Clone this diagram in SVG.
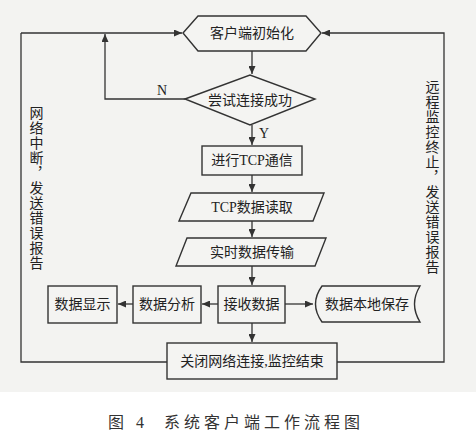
<svg xmlns="http://www.w3.org/2000/svg" width="476" height="442" viewBox="0 0 476 442">
<defs>
<marker id="ah" markerUnits="userSpaceOnUse" markerWidth="9" markerHeight="7" refX="8" refY="3.5" orient="auto">
<path d="M0,0 L8,3.5 L0,7 Z" fill="#333"/>
</marker>
<style>
.shape{fill:#f4f4f2;stroke:#333;stroke-width:1.4}
.t{font-family:"Liberation Serif","Noto Sans CJK SC",serif;font-size:14px;fill:#222;text-anchor:middle;dominant-baseline:central}
.c{fill:none;stroke:#333;stroke-width:1.3}
.v{font-family:"Liberation Serif","Noto Sans CJK SC",serif;font-size:14px;fill:#222;writing-mode:vertical-rl;letter-spacing:1px}
</style>
</defs>
<rect x="0" y="0" width="476" height="442" fill="#ffffff"/>
<rect x="0" y="0" width="476" height="392" fill="#f3f3f1"/>
<g id="connectors">
<path class="c" d="M21,33 L21,362 L167,362"/>
<path class="c" d="M337,362 L444,362 L444,33 L322,33" marker-end="url(#ah)"/>
<path class="c" d="M21,33 L182,33" marker-end="url(#ah)"/>
<path class="c" d="M185,99 L105,99 L105,34" marker-end="url(#ah)"/>
<path class="c" d="M252,51 L252,74" marker-end="url(#ah)"/>
<path class="c" d="M252,125 L252,145" marker-end="url(#ah)"/>
<path class="c" d="M252,175 L252,192" marker-end="url(#ah)"/>
<path class="c" d="M252,221 L252,237" marker-end="url(#ah)"/>
<path class="c" d="M252,266 L252,285" marker-end="url(#ah)"/>
<path class="c" d="M252,323 L252,342" marker-end="url(#ah)"/>
<path class="c" d="M218,304 L202,304" marker-end="url(#ah)"/>
<path class="c" d="M133,304 L118,304" marker-end="url(#ah)"/>
<path class="c" d="M285,304 L313,304" marker-end="url(#ah)"/>
<text class="t" x="162" y="90">N</text>
<text class="t" x="264" y="133">Y</text>
</g>
<g id="n-init"><path class="shape" d="M183,33 L198,16 L306,16 L321,33 L306,51 L198,51 Z"/><text class="t" x="252" y="33">客户端初始化</text></g>
<g id="n-try"><path class="shape" d="M185,99 L250,75 L315,99 L250,125 Z"/><text class="t" x="250" y="100">尝试连接成功</text></g>
<g id="n-tcp"><rect class="shape" x="202" y="146" width="100" height="29"/><text class="t" x="252" y="160">进行TCP通信</text></g>
<g id="n-read"><path class="shape" d="M191,193 L324,193 L313,221 L179,221 Z"/><text class="t" x="252" y="207">TCP数据读取</text></g>
<g id="n-trans"><path class="shape" d="M187,238 L326,238 L315,266 L176,266 Z"/><text class="t" x="252" y="252">实时数据传输</text></g>
<g id="n-show"><rect class="shape" x="48" y="286" width="69" height="37"/><text class="t" x="82.5" y="304">数据显示</text></g>
<g id="n-analyze"><rect class="shape" x="133" y="286" width="68" height="37"/><text class="t" x="167" y="304">数据分析</text></g>
<g id="n-recv"><rect class="shape" x="218" y="286" width="67" height="37"/><text class="t" x="251.5" y="304">接收数据</text></g>
<g id="n-save"><path class="shape" d="M322,286 L420,286 Q409,304 420,322 L322,322 Q309,304 322,286 Z"/><text class="t" x="367" y="304">数据本地保存</text></g>
<g id="n-close"><rect class="shape" x="167" y="343" width="170" height="36"/><text class="t" x="252" y="361">关闭网络连接,监控结束</text></g>
<g id="labels">
<text class="v" x="35" y="106">网络中断，发送错误报告</text>
<text class="v" x="431" y="80">远程监控终止，发送错误报告</text>
<text x="108" y="422" style="font-family:'Liberation Serif','Noto Sans CJK SC',serif;font-size:16px;fill:#333;dominant-baseline:central;letter-spacing:4px" xml:space="preserve">图 4  系统客户端工作流程图</text>
</g>
</svg>
